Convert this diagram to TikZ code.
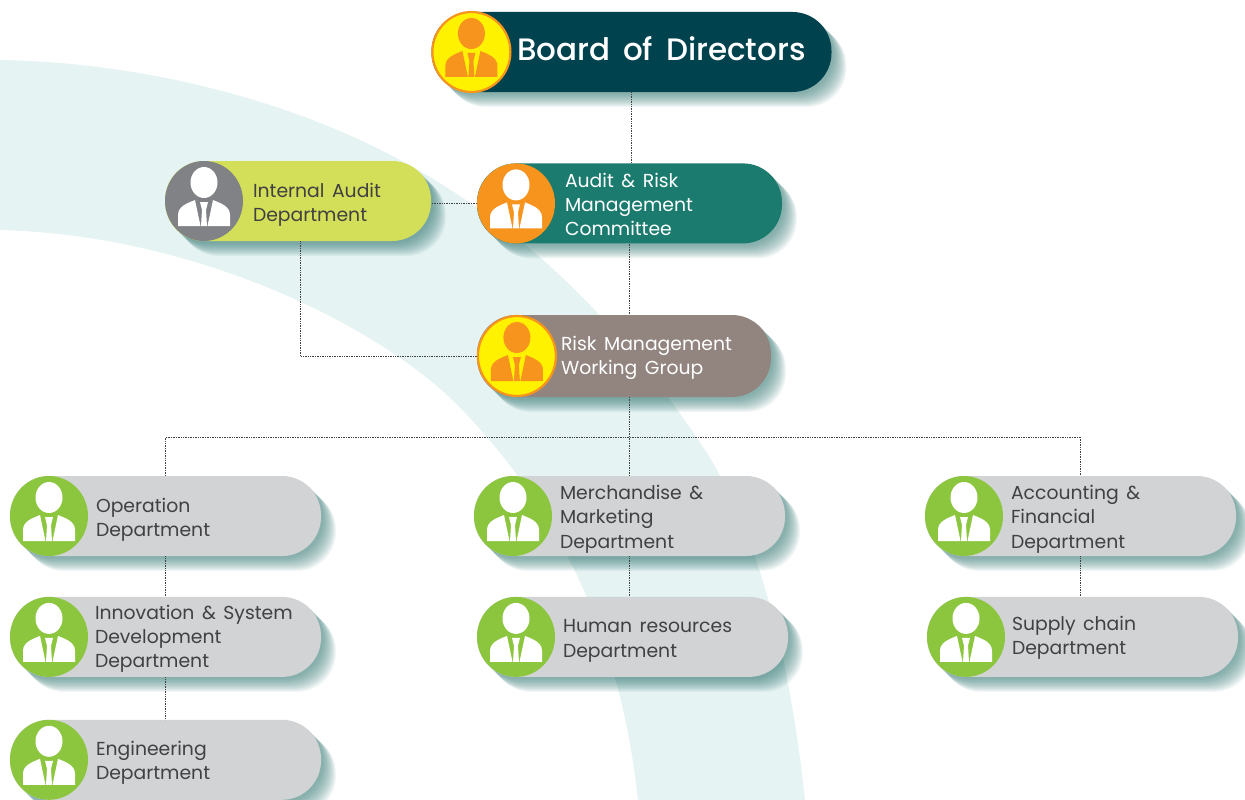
\documentclass[tikz,border=0pt]{standalone}
\usepackage{fontspec}
\setmainfont{Poppins}[WordSpace=1.5]
\newfontfamily\boardfont{Poppins Medium}[WordSpace=1.6]
\usetikzlibrary{positioning, shadows, shapes.geometric}

\definecolor{bandtint}{HTML}{E5F3F2}
\definecolor{shadowteal}{HTML}{3F7F7A}
\definecolor{boardcol}{HTML}{00424D}
\definecolor{auditcol}{HTML}{1A7B6E}
\definecolor{internalcol}{HTML}{D3DF58}
\definecolor{riskcol}{HTML}{928580}
\definecolor{deptcol}{HTML}{D1D3D4}
\definecolor{inkcol}{HTML}{414042}
\definecolor{leafgreen}{HTML}{8CC63F}
\definecolor{amber}{HTML}{F7941E}
\definecolor{lemon}{HTML}{FFF200}
\definecolor{slate}{HTML}{808285}

\tikzset{
    shadowstep/.style={general shadow={shadow xshift=#1pt, shadow yshift=-#1pt, fill=shadowteal, opacity=.065}},
    softshadow/.style={shadowstep/.list={15,14,13,12,11,10,9,8,7,6,5,4,3,2}},
    pill/.style={rectangle, minimum height=80pt, inner sep=0pt, rounded corners=39pt, softshadow},
    dept/.style={pill, fill=deptcol, minimum width=311pt},
    badge/.style={ellipse, minimum width=78pt, minimum height=80pt, inner sep=0pt, anchor=west},
    goldbadge/.style={badge, fill=lemon, draw=amber, line width=2.2pt},
    caption/.style={anchor=west, inner sep=0pt, align=left, font=\fontsize{18.8}{24.3}\selectfont, text=inkcol},
    whitecaption/.style={caption, text=white},
    link/.style={densely dotted, line width=.7pt, draw=inkcol},
    person/.pic={
        \fill (0,-18.5) ellipse [x radius=13.5, y radius=15.5];
        \fill (-26,25) -- (-26,14) .. controls (-26,5) and (-16,2) .. (-9,-1) -- (-3.5,25) -- cycle;
        \fill (26,25) -- (26,14) .. controls (26,5) and (16,2) .. (9,-1) -- (3.5,25) -- cycle;
        \fill (-4,1) -- (4,1) -- (2,9) -- (3,25) -- (-3,25) -- (-2,9) -- cycle;
    }
}

\begin{document}
\begin{tikzpicture}[x=1pt, y=-1pt]

\useasboundingbox (0,0) rectangle (1245,800);

% background band
\fill[bandtint] (0,60) .. controls (130,62) and (280,95) .. (400,160)
    .. controls (520,225) and (620,320) .. (707,453)
    .. controls (760,540) and (790,660) .. (805,800)
    -- (638,800) .. controls (625,680) and (585,540) .. (467,415)
    .. controls (390,330) and (200,235) .. (0,230) -- cycle;

% top of the chart
\node[pill, fill=boardcol, minimum width=400pt] (board) at (631.5,52) {};
\node[pill, fill=auditcol, minimum width=305pt, below=71pt of board, xshift=-2pt] (audit) {};
\node[pill, fill=internalcol, minimum width=266pt] (internal) at (298,201) {};
\node[pill, fill=riskcol, minimum width=294pt, minimum height=82pt] (risk) at (624,356) {};

% departments
\node[dept] (operation) at (165.5,516) {};
\node[dept, below=40.5pt of operation] (innovation) {};
\node[dept, below=42.5pt of innovation] (engineering) {};
\node[dept] (merchandise) at (629.5,516) {};
\node[dept, below=40.5pt of merchandise, xshift=3pt] (human) {};
\node[dept] (accounting) at (1080.5,516) {};
\node[dept, below=40.5pt of accounting, xshift=2pt] (supply) {};

% connectors
\coordinate (bus) at (630,437);
\draw[link] (board.south) -- (board.south |- audit.north);
\draw[link] (audit.south) -- (audit.south |- risk.north);
\draw[link] (audit.west) -- (audit.west -| internal.east);
\draw[link] ([xshift=2.5pt]internal.south) |- (risk.west);
\draw[link] (operation.north) |- (bus) -| (accounting.north);
\draw[link] (merchandise.north) -- (merchandise.north |- risk.south);
\draw[link] (operation.south) -- (operation.south |- innovation.north);
\draw[link] (innovation.south) -- (innovation.south |- engineering.north);
\draw[link] (merchandise.south) -- (merchandise.south |- human.north);
\draw[link] (accounting.south) -- (accounting.south |- supply.north);

% badges
\node[goldbadge, right=0pt of board.west] (boardicon) {};
\node[badge, fill=amber, right=0pt of audit.west] (auditicon) {};
\node[badge, fill=slate, right=0pt of internal.west] (internalicon) {};
\node[goldbadge, right=0pt of risk.west] (riskicon) {};
\node[badge, fill=leafgreen, right=0pt of operation.west] (operationicon) {};
\node[badge, fill=leafgreen, right=0pt of innovation.west] (innovationicon) {};
\node[badge, fill=leafgreen, right=0pt of engineering.west] (engineeringicon) {};
\node[badge, fill=leafgreen, right=0pt of merchandise.west] (merchandiseicon) {};
\node[badge, fill=leafgreen, right=0pt of human.west] (humanicon) {};
\node[badge, fill=leafgreen, right=0pt of accounting.west] (accountingicon) {};
\node[badge, fill=leafgreen, right=0pt of supply.west] (supplyicon) {};

\foreach \who/\tone in {board/amber, risk/amber, audit/white, internal/white, operation/white,
    innovation/white, engineering/white, merchandise/white, human/white, accounting/white, supply/white}
    \pic[fill=\tone] at (\who icon) {person};

% captions
\node[whitecaption, font=\boardfont\fontsize{31}{36}\selectfont, right=85.5pt of board.west, yshift=3pt] (boardtext) {Board of Directors};
\node[whitecaption, right=88pt of audit.west, yshift=-1pt] (audittext) {Audit \& Risk\\Management\\Committee};
\node[caption, right=88pt of internal.west, yshift=-4pt] (internaltext) {Internal Audit\\Department};
\node[whitecaption, right=84pt of risk.west, yshift=-2pt] (risktext) {Risk Management\\Working Group};
\node[caption, right=86pt of operation.west, yshift=-3.5pt] (operationtext) {Operation\\Department};
\node[caption, right=85pt of innovation.west, yshift=-2pt] (innovationtext) {Innovation \& System\\Development\\Department};
\node[caption, right=86pt of engineering.west, yshift=-3pt] (engineeringtext) {Engineering\\Department};
\node[caption, right=86pt of merchandise.west, yshift=-3pt] (merchandisetext) {Merchandise \&\\Marketing\\Department};
\node[caption, right=86pt of human.west, yshift=-4pt] (humantext) {Human resources\\Department};
\node[caption, right=86pt of accounting.west, yshift=-3pt] (accountingtext) {Accounting \&\\Financial\\Department};
\node[caption, right=85pt of supply.west, yshift=-1pt] (supplytext) {Supply chain\\Department};

\end{tikzpicture}
\end{document}
